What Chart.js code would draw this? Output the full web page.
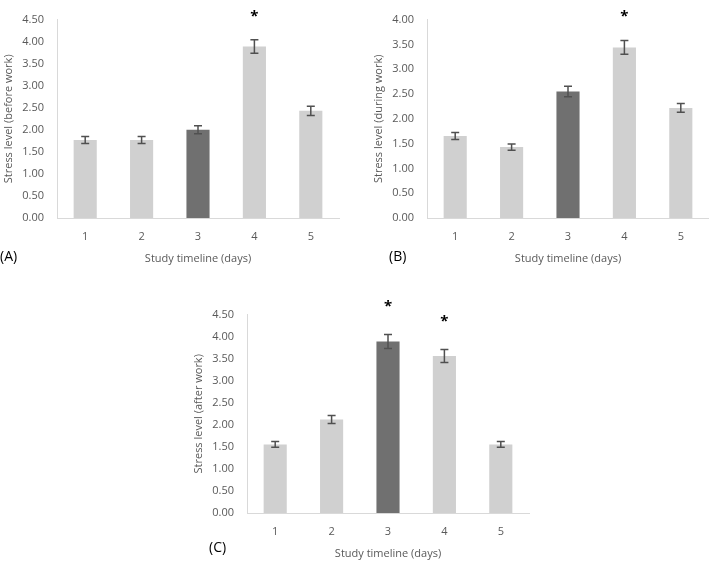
<!DOCTYPE html>
<html>
<head>
<meta charset="utf-8">
<script src="https://cdn.jsdelivr.net/npm/chart.js@4"></script>
<style>
  body { margin: 0; background: #fff; width: 709px; height: 561px; position: relative; overflow: hidden; }
  .panel { position: absolute; }
  .tag { position: absolute; font-family: "Open Sans", sans-serif; font-size: 14px; color: #000; }
</style>
</head>
<body>
<div class="panel" style="left:0;top:0;width:345px;height:270px"><canvas id="chartA"></canvas></div>
<div class="panel" style="left:370px;top:0;width:339px;height:270px"><canvas id="chartB"></canvas></div>
<div class="panel" style="left:190px;top:295px;width:345px;height:266px"><canvas id="chartC"></canvas></div>
<div class="tag" style="left:0;top:246px">(A)</div>
<div class="tag" style="left:389px;top:246px">(B)</div>
<div class="tag" style="left:209px;top:537px">(C)</div>
<script>
// days on the x axis
const days = ["1", "2", "3", "4", "5"];

// (A) before work
const before_vals = [1.77, 1.77, 2.0, 3.89, 2.43];
const before_err = [0.08, 0.08, 0.09, 0.155, 0.107];
const before_star = [null, null, null, 4.37, null];

// (B) during work
const during_vals = [1.655, 1.43, 2.55, 3.44, 2.22];
const during_err = [0.07, 0.063, 0.107, 0.14, 0.09];
const during_star = [null, null, null, 3.87, null];

// (C) after work
const after_vals = [1.556, 2.12, 3.89, 3.56, 1.556];
const after_err = [0.064, 0.09, 0.16, 0.146, 0.064];
const after_star = [null, null, 4.48, 4.14, null];

const light = "#d0d0d0";
const dark = "#707070";
const barColors = [light, light, dark, light, light];
const fontFam = "'Open Sans', sans-serif";

// error bars + asterisks drawn from the y scale
const extrasPlugin = {
  id: "extras",
  afterDatasetsDraw(chart, args, opts) {
    const ctx = chart.ctx;
    const yScale = chart.scales.y;
    const meta = chart.getDatasetMeta(0);
    const vals = chart.data.datasets[0].data;
    ctx.save();
    ctx.strokeStyle = "#505050";
    ctx.lineWidth = 1.5;
    meta.data.forEach((bar, i) => {
      const e = opts.err[i];
      const top = yScale.getPixelForValue(vals[i] + e);
      const bot = yScale.getPixelForValue(vals[i] - e);
      ctx.beginPath();
      ctx.moveTo(bar.x, top); ctx.lineTo(bar.x, bot);
      ctx.moveTo(bar.x - 4, top); ctx.lineTo(bar.x + 4, top);
      ctx.moveTo(bar.x - 4, bot); ctx.lineTo(bar.x + 4, bot);
      ctx.stroke();
      if (opts.stars[i] != null) {
        ctx.fillStyle = "#000";
        ctx.font = "bold 15px " + fontFam;
        ctx.textAlign = "center";
        ctx.textBaseline = "middle";
        ctx.fillText("*", bar.x, yScale.getPixelForValue(opts.stars[i]) - 9);
      }
    });
    ctx.restore();
  }
};

function makeChart(id, vals, err, stars, yMax, yTitle, rightPad, xHeight, titlePad) {
  const ctx = document.getElementById(id).getContext("2d");
  return new Chart(ctx, {
    type: "bar",
    data: {
      labels: days,
      datasets: [{
        data: vals,
        backgroundColor: barColors,
        categoryPercentage: 1,
        barPercentage: 0.41
      }]
    },
    options: {
      responsive: true,
      maintainAspectRatio: false,
      animation: false,
      layout: { padding: { left: 0, top: 7, right: rightPad, bottom: 0 } },
      plugins: {
        legend: { display: false },
        tooltip: { enabled: false },
        extras: { err: err, stars: stars }
      },
      scales: {
        x: {
          grid: { display: false, drawTicks: false },
          border: { display: true, color: "#d9d9d9", width: 1 },
          ticks: { color: "#595959", font: { family: fontFam, size: 11 }, padding: 12 },
          title: { display: true, text: "Study timeline (days)", color: "#595959",
                   font: { family: fontFam, size: 11 }, padding: { top: 0, bottom: titlePad } },
          afterFit: (s) => { s.height = xHeight; }
        },
        y: {
          min: 0, max: yMax,
          grid: { display: false, drawTicks: false },
          border: { display: true, color: "#d9d9d9", width: 1 },
          ticks: { stepSize: 0.5, color: "#595959", font: { family: fontFam, size: 11 }, padding: 13,
                   callback: (v) => v.toFixed(2) },
          title: { display: true, text: yTitle, color: "#595959",
                   font: { family: fontFam, size: 11 }, padding: { top: 2, bottom: 0 } },
          afterFit: (s) => { s.width = 57; }
        }
      }
    },
    plugins: [extrasPlugin]
  });
}

makeChart("chartA", before_vals, before_err, before_star, 4.5, "Stress level (before work)", 6, 52, 5);
makeChart("chartB", during_vals, during_err, during_star, 4.0, "Stress level (during work)", 0, 52, 5);
makeChart("chartC", after_vals, after_err, after_star, 4.5, "Stress level (after work)", 6, 48, 1);
</script>
</body>
</html>
